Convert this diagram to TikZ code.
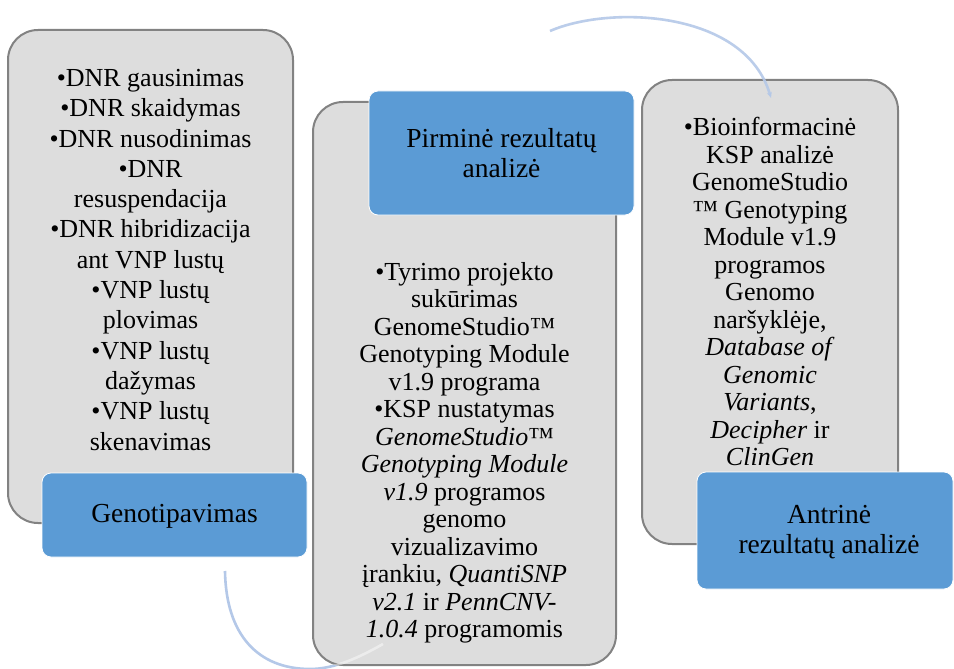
\documentclass[tikz,border=0pt]{standalone}
\usepackage{fontspec}
\setmainfont{Liberation Serif}
\usetikzlibrary{arrows.meta}
\definecolor{boxgray}{RGB}{221,221,221}
\definecolor{boxline}{RGB}{130,130,130}
\definecolor{headblue}{RGB}{91,155,213}
\definecolor{arcblue}{RGB}{180,200,232}
\begin{document}
\begin{tikzpicture}[x=1pt,y=-1pt,
  graybox/.style={draw=boxline,line width=2pt,fill=boxgray,rounded corners=30pt,inner sep=0pt},
  bluebox/.style={draw=white,line width=0.8pt,fill=headblue,rounded corners=9pt,inner sep=0pt},
  bodyone/.style={inner sep=0pt,align=center,anchor=north,font=\fontsize{26}{30.3}\selectfont},
  bodytext/.style={inner sep=0pt,align=center,anchor=north,font=\fontsize{26}{27.5}\selectfont},
  headtext/.style={inner sep=0pt,align=center,font=\fontsize{27.5}{30}\selectfont},
  arcline/.style={draw=arcblue,line width=2.6pt}]
\useasboundingbox (0,0) rectangle (954,669);
\fill[white] (0,0) rectangle (954,669);

% arc from box 1 towards box 2 (behind)
\coordinate (a1s) at (225,571);
\coordinate (a1m) at (310,669);
\coordinate (a1e) at (383,644);
\path[arcline] (a1s) .. controls (226,635) and (258,669) .. (a1m) .. controls (335,669) and (360,657) .. (a1e);

% box 1
\node[graybox,minimum width=285pt,minimum height=493pt] (g1) at (150.5,276.5) {};
\node[bluebox,minimum width=265pt,minimum height=84pt] (b1) at (174.5,515) {};
% box 2
\node[graybox,minimum width=303pt,minimum height=563pt] (g2) at (464.5,383.5) {};
\node[bluebox,minimum width=265pt,minimum height=124pt] (b2) at (501.5,153) {};
% box 3
\node[graybox,minimum width=256pt,minimum height=464pt] (g3) at (770,312) {};
\node[bluebox,minimum width=256pt,minimum height=117pt] (b3) at (825,530.5) {};

% faint part of arc 1 seen through box 2
\begin{scope}
\clip[rounded corners=30pt] (g2.south west) rectangle (g2.north east);
\path[draw=white,line width=2.6pt,opacity=0.45] (a1s) .. controls (226,635) and (258,669) .. (a1m) .. controls (335,669) and (360,657) .. (a1e);
\end{scope}

% arc from box 2 to box 3
\coordinate (a2s) at (550,31);
\coordinate (a2e) at (771,98);
\path[arcline,draw opacity=0.9,-{Stealth[length=6pt,width=5pt]}] (a2s) .. controls (610,5) and (745,10) .. (a2e);

% texts
\node[bodyone] (t1) at (150.5,69) {•DNR gausinimas\\•DNR skaidymas\\•DNR nusodinimas\\•DNR\\resuspendacija\\•DNR hibridizacija\\ant VNP lustų\\•VNP lustų\\plovimas\\•VNP lustų\\dažymas\\•VNP lustų\\skenavimas};
\node[headtext,anchor=base] (h1) at (174.5,522) {Genotipavimas};

\node[bodytext] (t2) at (464.5,262) {•Tyrimo projekto\\sukūrimas\\GenomeStudio™\\Genotyping Module\\v1.9 programa\\•KSP nustatymas\\\textit{GenomeStudio}™\\\textit{Genotyping Module}\\\textit{v1.9} programos\\genomo\\vizualizavimo\\įrankiu, \textit{QuantiSNP}\\\textit{v2.1} ir \textit{PennCNV-}\\\textit{1.0.4} programomis};
\node[headtext,anchor=north] (h2) at (501.5,128) {Pirminė rezultatų\\analizė};

\node[bodytext] (t3) at (770,117) {•Bioinformacinė\\KSP analizė\\GenomeStudio\\™ Genotyping\\Module v1.9\\programos\\Genomo\\naršyklėje,\\\textit{Database of}\\\textit{Genomic}\\\textit{Variants},\\\textit{Decipher} ir\\\textit{ClinGen}};
\node[headtext,anchor=north] (h3) at (829,505) {Antrinė\\rezultatų analizė};
\end{tikzpicture}
\end{document}
